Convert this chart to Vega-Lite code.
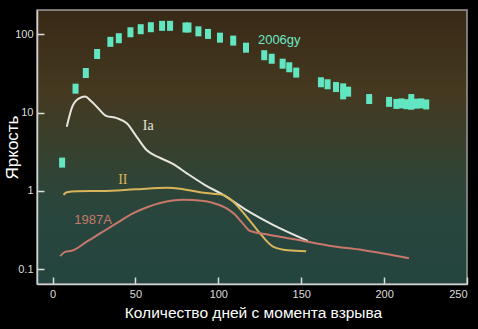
{
  "$schema": "https://vega.github.io/schema/vega-lite/v6.json",
  "width": 430,
  "height": 274,
  "autosize": "none",
  "padding": {"left": 37, "top": 10, "right": 11, "bottom": 45},
  "background": "#000000",
  "config": {
    "view": {
      "stroke": "#9a9a9a",
      "strokeWidth": 1.5,
      "fill": {
        "gradient": "linear",
        "x1": 0, "y1": 0, "x2": 0, "y2": 1,
        "stops": [
          {"offset": 0, "color": "#382916"},
          {"offset": 0.3, "color": "#453920"},
          {"offset": 0.55, "color": "#344231"},
          {"offset": 0.75, "color": "#28463d"},
          {"offset": 1, "color": "#24443f"}
        ]
      }
    },
    "axis": {
      "grid": false,
      "domainColor": "#d0d0d0",
      "domainWidth": 1.5,
      "tickColor": "#dddddd",
      "tickWidth": 1.5,
      "tickSize": -7,
      "labelPadding": 11,
      "labelColor": "#dddddd",
      "labelFont": "Liberation Sans",
      "labelFontSize": 11,
      "titleColor": "#ffffff",
      "titleFont": "Liberation Sans",
      "titleFontWeight": "normal"
    }
  },
  "datasets": {
    "sn2006gy": [
      {"day": 5.8, "lum": 2.3},
      {"day": 13.9, "lum": 20.2},
      {"day": 20.1, "lum": 32},
      {"day": 26.9, "lum": 56},
      {"day": 34.9, "lum": 80},
      {"day": 40.0, "lum": 89},
      {"day": 47.0, "lum": 106},
      {"day": 53.2, "lum": 116},
      {"day": 59.3, "lum": 123},
      {"day": 66.1, "lum": 128},
      {"day": 70.9, "lum": 128},
      {"day": 80.2, "lum": 122},
      {"day": 82.0, "lum": 122},
      {"day": 88.0, "lum": 109},
      {"day": 93.8, "lum": 101},
      {"day": 101.0, "lum": 90.5},
      {"day": 109.0, "lum": 83},
      {"day": 116.7, "lum": 67.4},
      {"day": 127.7, "lum": 54},
      {"day": 132.2, "lum": 48.7},
      {"day": 138.8, "lum": 42.1},
      {"day": 142.8, "lum": 37.9},
      {"day": 147.0, "lum": 32.4},
      {"day": 161.9, "lum": 24.4},
      {"day": 165.9, "lum": 23},
      {"day": 171.0, "lum": 21.2},
      {"day": 175.3, "lum": 20.4},
      {"day": 175.3, "lum": 17.1},
      {"day": 178.3, "lum": 18.5},
      {"day": 191.0, "lum": 14.9},
      {"day": 203.0, "lum": 13.7},
      {"day": 207.4, "lum": 12.9},
      {"day": 210.4, "lum": 13.1},
      {"day": 213.4, "lum": 12.8},
      {"day": 216.4, "lum": 14.9},
      {"day": 216.4, "lum": 12.6},
      {"day": 219.4, "lum": 13.0},
      {"day": 222.4, "lum": 13.1},
      {"day": 225.4, "lum": 12.7}
    ],
    "curves": [
      {"type": "Ia", "day": 8.6, "lum": 6.6},
      {"type": "Ia", "day": 12.0, "lum": 12.0},
      {"type": "Ia", "day": 16.0, "lum": 15.2},
      {"type": "Ia", "day": 19.7, "lum": 16.0},
      {"type": "Ia", "day": 23.0, "lum": 14.2},
      {"type": "Ia", "day": 26.7, "lum": 11.9},
      {"type": "Ia", "day": 32.3, "lum": 9.1},
      {"type": "Ia", "day": 38.8, "lum": 8.5},
      {"type": "Ia", "day": 44.8, "lum": 7.3},
      {"type": "Ia", "day": 50.8, "lum": 4.9},
      {"type": "Ia", "day": 56.9, "lum": 3.3},
      {"type": "Ia", "day": 64.0, "lum": 2.7},
      {"type": "Ia", "day": 72.9, "lum": 2.2},
      {"type": "Ia", "day": 81.0, "lum": 1.68},
      {"type": "Ia", "day": 92.0, "lum": 1.19},
      {"type": "Ia", "day": 103.0, "lum": 0.89},
      {"type": "Ia", "day": 117.0, "lum": 0.57},
      {"type": "Ia", "day": 133.0, "lum": 0.37},
      {"type": "Ia", "day": 154.0, "lum": 0.231},
      {"type": "II", "day": 6.6, "lum": 0.89},
      {"type": "II", "day": 8.6, "lum": 0.96},
      {"type": "II", "day": 15.0, "lum": 0.99},
      {"type": "II", "day": 30.0, "lum": 1.0},
      {"type": "II", "day": 50.0, "lum": 1.05},
      {"type": "II", "day": 69.0, "lum": 1.10},
      {"type": "II", "day": 77.0, "lum": 1.07},
      {"type": "II", "day": 89.0, "lum": 0.96},
      {"type": "II", "day": 97.0, "lum": 0.92},
      {"type": "II", "day": 103.0, "lum": 0.89},
      {"type": "II", "day": 109.0, "lum": 0.73},
      {"type": "II", "day": 117.0, "lum": 0.47},
      {"type": "II", "day": 125.0, "lum": 0.29},
      {"type": "II", "day": 133.0, "lum": 0.195},
      {"type": "II", "day": 142.0, "lum": 0.175},
      {"type": "II", "day": 153.0, "lum": 0.17},
      {"type": "1987A", "day": 4.6, "lum": 0.147},
      {"type": "1987A", "day": 8.0, "lum": 0.168},
      {"type": "1987A", "day": 11.6, "lum": 0.172},
      {"type": "1987A", "day": 20.0, "lum": 0.22},
      {"type": "1987A", "day": 28.7, "lum": 0.287},
      {"type": "1987A", "day": 38.0, "lum": 0.38},
      {"type": "1987A", "day": 48.8, "lum": 0.52},
      {"type": "1987A", "day": 57.0, "lum": 0.62},
      {"type": "1987A", "day": 65.0, "lum": 0.70},
      {"type": "1987A", "day": 79.0, "lum": 0.77},
      {"type": "1987A", "day": 90.0, "lum": 0.75},
      {"type": "1987A", "day": 97.0, "lum": 0.70},
      {"type": "1987A", "day": 105.0, "lum": 0.60},
      {"type": "1987A", "day": 110.0, "lum": 0.50},
      {"type": "1987A", "day": 115.0, "lum": 0.38},
      {"type": "1987A", "day": 119.0, "lum": 0.31},
      {"type": "1987A", "day": 129.0, "lum": 0.28},
      {"type": "1987A", "day": 147.0, "lum": 0.24},
      {"type": "1987A", "day": 167.0, "lum": 0.20},
      {"type": "1987A", "day": 187.0, "lum": 0.176},
      {"type": "1987A", "day": 215.0, "lum": 0.138}
    ],
    "labels": [
      {"text": "2006gy", "day": 123.9, "lum": 84.6, "type": "2006gy"},
      {"text": "Ia", "day": 54.5, "lum": 6.75, "type": "Ia"},
      {"text": "II", "day": 39.6, "lum": 1.38, "type": "II"},
      {"text": "1987A", "day": 13.1, "lum": 0.428, "type": "1987A"}
    ]
  },
  "layer": [
    {
      "data": {"name": "curves"},
      "mark": {"type": "line", "interpolate": "monotone", "strokeWidth": 2},
      "encoding": {
        "x": {
          "field": "day", "type": "quantitative",
          "scale": {"domain": [-9.35, 250], "nice": false, "zero": false},
          "axis": {
            "values": [0, 50, 100, 150, 200, 250],
            "labelFlush": true,
            "title": "Количество дней с момента взрыва",
            "titleFontSize": 15.5,
            "titleX": 216,
            "titleY": 28,
            "titleBaseline": "middle",
            "titleAnchor": null
          }
        },
        "y": {
          "field": "lum", "type": "quantitative",
          "scale": {"type": "log", "domain": [0.0649, 204], "nice": false},
          "axis": {
            "values": [0.1, 1, 10, 100],
            "format": "~g",
            "title": "Яркость",
            "titleFontSize": 17,
            "titleAngle": -90,
            "titleX": -25,
            "titleY": 137,
            "titleAlign": "center",
            "titleBaseline": "middle"
          }
        },
        "detail": {"field": "type"},
        "color": {
          "field": "type", "type": "nominal",
          "scale": {"domain": ["Ia", "II", "1987A", "2006gy"], "range": ["#e6e6de", "#d9b45a", "#c7786a", "#6ee8c6"]},
          "legend": null
        }
      }
    },
    {
      "data": {"name": "sn2006gy"},
      "mark": {"type": "tick", "orient": "vertical", "size": 10, "thickness": 6, "color": "#62e6c2", "opacity": 1},
      "encoding": {
        "x": {"field": "day", "type": "quantitative"},
        "y": {"field": "lum", "type": "quantitative"}
      }
    },
    {
      "data": {"name": "labels"},
      "transform": [{"filter": "datum.type === '2006gy' || datum.type === '1987A'"}],
      "mark": {"type": "text", "align": "left", "baseline": "middle", "font": "Liberation Sans", "fontSize": 13},
      "encoding": {
        "x": {"field": "day", "type": "quantitative"},
        "y": {"field": "lum", "type": "quantitative"},
        "text": {"field": "text"},
        "color": {"field": "type", "type": "nominal", "legend": null}
      }
    },
    {
      "data": {"name": "labels"},
      "transform": [{"filter": "datum.type === 'Ia' || datum.type === 'II'"}],
      "mark": {"type": "text", "align": "left", "baseline": "middle", "font": "Liberation Serif", "fontSize": 14},
      "encoding": {
        "x": {"field": "day", "type": "quantitative"},
        "y": {"field": "lum", "type": "quantitative"},
        "text": {"field": "text"},
        "color": {"field": "type", "type": "nominal", "legend": null}
      }
    }
  ]
}
